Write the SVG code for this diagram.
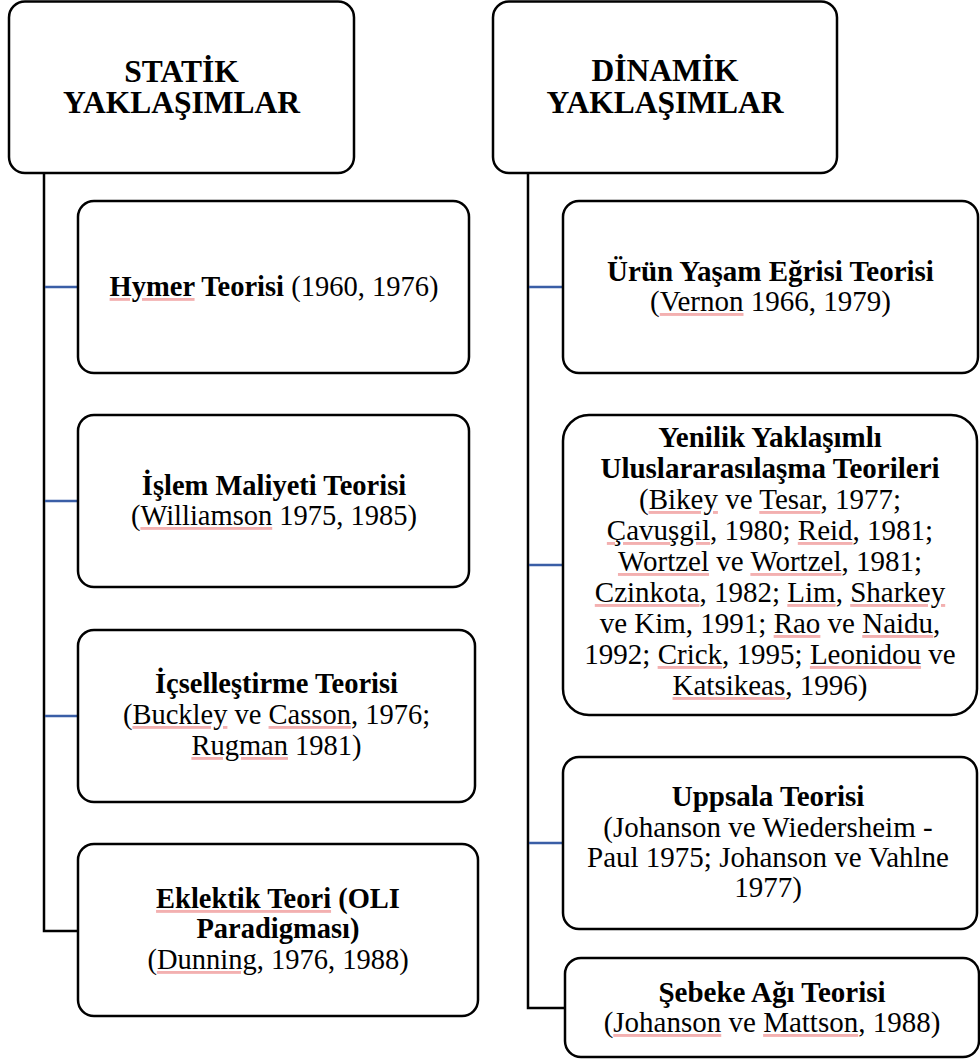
<svg xmlns="http://www.w3.org/2000/svg" width="980" height="1061" viewBox="0 0 980 1061">
<style>
.box{fill:#ffffff;stroke:#000;stroke-width:2.5}
.t{font-family:'Liberation Serif','Times New Roman',serif;font-size:28.5px;fill:#000;text-anchor:middle}
.r{font-size:29px}
.h{font-family:'Liberation Serif','Times New Roman',serif;font-size:31.5px;font-weight:bold;fill:#000;text-anchor:middle}
.b{font-weight:bold}
.u{fill:#f3b0b0;text-decoration:underline}
.k{fill:#000}
.trunk{fill:none;stroke:#000;stroke-width:2.5}
.br{fill:none;stroke:#3A5EA6;stroke-width:2.5}
</style>
<rect width="980" height="1061" fill="#fff"/>
<g id="connectors">
<polyline class="trunk" points="44,173 44,931 78,931"/>
<line class="br" x1="45" y1="287" x2="78" y2="287"/>
<line class="br" x1="45" y1="501" x2="78" y2="501"/>
<line class="br" x1="45" y1="716" x2="78" y2="716"/>
<polyline class="trunk" points="528,173 528,1008 564,1008"/>
<line class="br" x1="529" y1="287" x2="563" y2="287"/>
<line class="br" x1="529" y1="565" x2="563" y2="565"/>
<line class="br" x1="529" y1="843" x2="563" y2="843"/>
</g>
<g id="statik">
<rect class="box" x="9" y="1.5" width="345" height="171.5" rx="16"/>
<text class="h" x="181.5" y="82">STATİK</text>
<text class="h" x="181.5" y="113">YAKLAŞIMLAR</text>
</g>
<g id="dinamik">
<rect class="box" x="493" y="1.5" width="344" height="171.5" rx="16"/>
<text class="h" x="665" y="81">DİNAMİK</text>
<text class="h" x="665" y="113">YAKLAŞIMLAR</text>
</g>
<g id="hymer">
<rect class="box" x="78" y="201" width="391" height="172" rx="16"/>
<text class="t" x="274" y="296"><tspan class="b u"><tspan class="k">Hymer</tspan></tspan><tspan class="b"> Teorisi</tspan> (1960, 1976)</text>
</g>
<g id="islem">
<rect class="box" x="78" y="415" width="391" height="172" rx="16"/>
<text class="t b" x="274" y="495">İşlem Maliyeti Teorisi</text>
<text class="t" x="274" y="525">(<tspan class="u"><tspan class="k">Williamson</tspan></tspan> 1975, 1985)</text>
</g>
<g id="icsellestirme">
<rect class="box" x="78" y="630" width="397" height="172" rx="16"/>
<text class="t b" x="276.5" y="693">İçselleştirme Teorisi</text>
<text class="t" x="276.5" y="724">(<tspan class="u"><tspan class="k">Buckley</tspan></tspan> ve <tspan class="u"><tspan class="k">Casson</tspan></tspan>, 1976;</text>
<text class="t" x="276.5" y="755"><tspan class="u"><tspan class="k">Rugman</tspan></tspan> 1981)</text>
</g>
<g id="eklektik">
<rect class="box" x="78" y="844" width="400" height="172" rx="16"/>
<text class="t b" x="278" y="908"><tspan class="u"><tspan class="k">Eklektik Teori</tspan></tspan> (OLI</text>
<text class="t b" x="278" y="938">Paradigması)</text>
<text class="t" x="278" y="969">(<tspan class="u"><tspan class="k">Dunning</tspan></tspan>, 1976, 1988)</text>
</g>
<g id="urun">
<rect class="box" x="563" y="201" width="415" height="172" rx="16"/>
<text class="t r b" x="770.5" y="281">Ürün Yaşam Eğrisi Teorisi</text>
<text class="t r" x="770.5" y="311">(<tspan class="u"><tspan class="k">Vernon</tspan></tspan> 1966, 1979)</text>
</g>
<g id="yenilik">
<rect class="box" x="563" y="415" width="414" height="300" rx="26"/>
<text class="t r b" x="770" y="447">Yenilik Yaklaşımlı</text>
<text class="t r b" x="770" y="478">Uluslararasılaşma Teorileri</text>
<text class="t r" x="770" y="509">(<tspan class="u"><tspan class="k">Bikey</tspan></tspan> ve <tspan class="u"><tspan class="k">Tesar</tspan></tspan>, 1977;</text>
<text class="t r" x="770" y="540"><tspan class="u"><tspan class="k">Çavuşgil</tspan></tspan>, 1980; <tspan class="u"><tspan class="k">Reid</tspan></tspan>, 1981;</text>
<text class="t r" x="770" y="571"><tspan class="u"><tspan class="k">Wortzel</tspan></tspan> ve <tspan class="u"><tspan class="k">Wortzel</tspan></tspan>, 1981;</text>
<text class="t r" x="770" y="602"><tspan class="u"><tspan class="k">Czinkota</tspan></tspan>, 1982; <tspan class="u"><tspan class="k">Lim</tspan></tspan>, <tspan class="u"><tspan class="k">Sharkey</tspan></tspan></text>
<text class="t r" x="770" y="633">ve Kim, 1991; <tspan class="u"><tspan class="k">Rao</tspan></tspan> ve <tspan class="u"><tspan class="k">Naidu</tspan></tspan>,</text>
<text class="t r" x="770" y="664">1992; <tspan class="u"><tspan class="k">Crick</tspan></tspan>, 1995; <tspan class="u"><tspan class="k">Leonidou</tspan></tspan> ve</text>
<text class="t r" x="770" y="695"><tspan class="u"><tspan class="k">Katsikeas</tspan></tspan>, 1996)</text>
</g>
<g id="uppsala">
<rect class="box" x="563" y="757" width="414" height="172" rx="16"/>
<text class="t r b" x="768" y="806">Uppsala Teorisi</text>
<text class="t r" x="768" y="837">(Johanson ve Wiedersheim -</text>
<text class="t r" x="768" y="867">Paul 1975; Johanson ve Vahlne</text>
<text class="t r" x="768" y="897">1977)</text>
</g>
<g id="sebeke">
<rect class="box" x="565" y="958" width="414" height="99" rx="16"/>
<text class="t r b" x="772" y="1002">Şebeke Ağı Teorisi</text>
<text class="t r" x="772" y="1032">(<tspan class="u"><tspan class="k">Johanson</tspan></tspan> ve <tspan class="u"><tspan class="k">Mattson</tspan></tspan>, 1988)</text>
</g>
</svg>
